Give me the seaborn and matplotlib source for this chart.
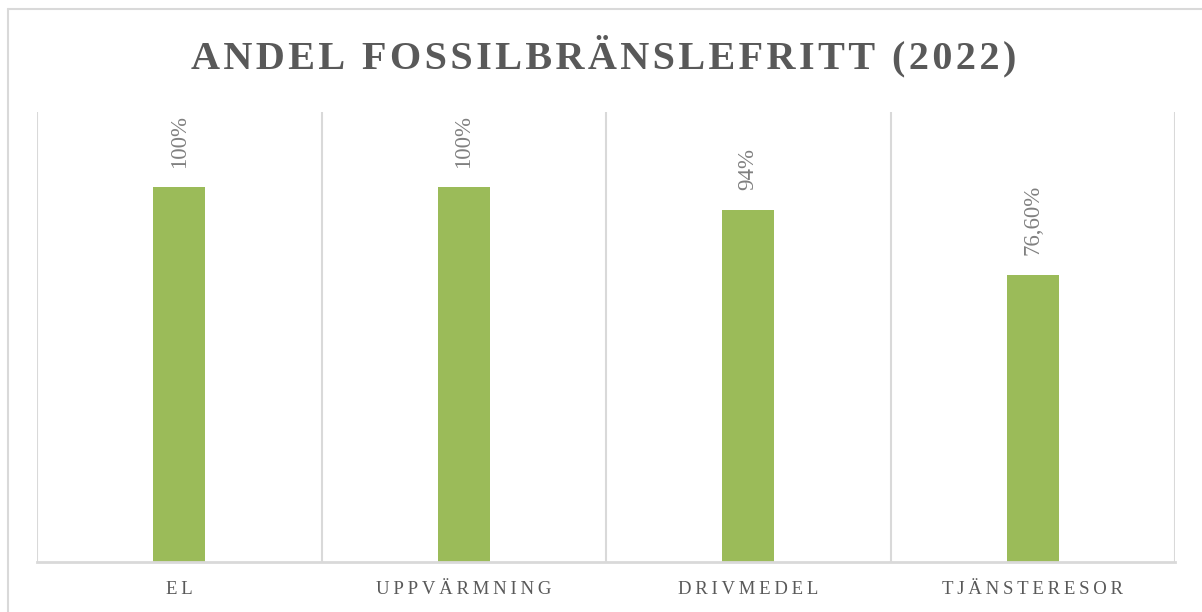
import matplotlib
matplotlib.use("Agg")
import matplotlib.pyplot as plt
import seaborn as sns
import pandas as pd
from matplotlib.lines import Line2D

categories = ["EL", "UPPVÄRMNING", "DRIVMEDEL", "TJÄNSTERESOR"]
values = [1.00, 1.00, 0.94, 0.766]
value_labels = ["100%", "100%", "94%", "76,60%"]
title = "ANDEL FOSSILBRÄNSLEFRITT (2022)"

sns.set_theme(style="white")
plt.rcParams['font.family'] = ['Liberation Serif', 'DejaVu Serif']

def spaced(s, sp="\u2009"):
    return sp.join(list(s))

df = pd.DataFrame({"cat": categories, "val": values})

fig = plt.figure(figsize=(12.02, 6.12), dpi=100)
ax = fig.add_axes([37/1202, 1 - 562/612, (1175-37)/1202, (562-112)/612])

sns.barplot(data=df, x="cat", y="val", color="#9BBB59", width=0.183,
            saturation=1, ax=ax, edgecolor="none")

ax.set_ylim(0, 1.2)
ax.set_xlim(-0.5, len(categories) - 0.5)

# category separators
for b in [i - 0.5 for i in range(len(categories) + 1)]:
    ax.axvline(b, color="#d9d9d9", lw=1.5, zorder=0)

for s in ["top", "right", "left"]:
    ax.spines[s].set_visible(False)
ax.spines["bottom"].set_color("#d9d9d9")
ax.spines["bottom"].set_linewidth(2)
ax.set_yticks([])
ax.set_xlabel("")
ax.set_ylabel("")
ax.set_xticks(range(len(categories)))
ax.set_xticklabels([spaced(c) for c in categories], fontsize=13.5, color="#595959")
ax.tick_params(axis="x", length=0, pad=14)

ax.bar_label(ax.containers[0], labels=value_labels, rotation=90, padding=14,
             fontsize=16.5, color="#808080")

fig.text(0.502, 1 - 56/612, spaced(title, "\u200a"), ha="center", va="center",
         fontsize=29, fontweight="bold", color="#595959")

# outer chart border (left and top)
fig.add_artist(Line2D([8/1202, 8/1202], [0, 1 - 9/612], transform=fig.transFigure,
                      color="#d9d9d9", lw=1.5))
fig.add_artist(Line2D([8/1202, 1], [1 - 9/612, 1 - 9/612], transform=fig.transFigure,
                      color="#d9d9d9", lw=1.5))

fig.savefig("out.png", dpi=100)
